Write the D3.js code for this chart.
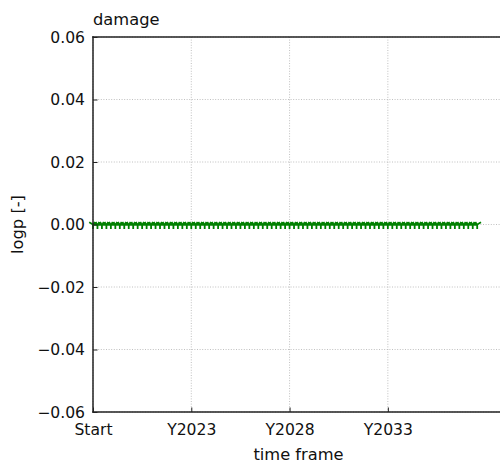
<!DOCTYPE html>
<html>
<head>
<meta charset="utf-8">
<script src="https://cdn.jsdelivr.net/npm/d3@7"></script>
<style>
  html, body { margin: 0; padding: 0; background: #fff; }
  svg { display: block; font-family: "DejaVu Sans", sans-serif; }
</style>
</head>
<body>
<svg id="chart" width="500" height="465"></svg>
<script>
// Damage log-probability per period (all periods report 0)
const damage = [
  0, 0, 0, 0, 0, 0, 0, 0, 0, 0, 0, 0, 0, 0, 0, 0, 0, 0, 0, 0, 0, 0,
  0, 0, 0, 0, 0, 0, 0, 0, 0, 0, 0, 0, 0, 0, 0, 0, 0, 0, 0, 0, 0, 0,
  0, 0, 0, 0, 0, 0, 0, 0, 0, 0, 0, 0, 0, 0, 0, 0, 0, 0, 0, 0, 0, 0,
  0, 0, 0, 0, 0, 0, 0, 0, 0, 0, 0, 0, 0, 0, 0, 0, 0, 0, 0, 0, 0
];
// Labelled positions on the time axis
const xTickIndex = [0, 22, 44, 66];
const xTickLabels = ["Start", "Y2023", "Y2028", "Y2033"];
const yTicks = [-0.06, -0.04, -0.02, 0.00, 0.02, 0.04, 0.06];

const svg = d3.select("#chart");
const plotLeft = 93, plotRight = 504, plotTop = 37, plotBottom = 412;
const tickFont = "15.6px", labelFont = "16.3px";

const x = d3.scaleLinear().domain([0, 92]).range([plotLeft, plotRight]);
const y = d3.scaleLinear().domain([-0.06, 0.06]).range([plotBottom, plotTop]);

const fmt = v => d3.format(".2f")(v).replace("-", "\u2212");

// Grid
const grid = svg.append("g").attr("stroke", "#b0b0b0").attr("stroke-width", 0.8)
  .attr("stroke-dasharray", "1,1.6");
grid.selectAll("line.v").data(xTickIndex).join("line").attr("class", "v")
  .attr("x1", d => x(d)).attr("x2", d => x(d)).attr("y1", plotTop).attr("y2", plotBottom);
grid.selectAll("line.h").data(yTicks).join("line").attr("class", "h")
  .attr("x1", plotLeft).attr("x2", plotRight).attr("y1", d => y(d)).attr("y2", d => y(d));

// Series line
const data = damage.map((v, i) => [i, v]);
svg.append("path").datum(data)
  .attr("fill", "none").attr("stroke", "#008000").attr("stroke-width", 2.4)
  .attr("d", d3.line().x(d => x(d[0])).y(d => y(d[1])));

// tri_down markers
const r = 4.4;
const tri = `M0,0L0,${r}M0,0L${-0.866 * r},${-0.5 * r}M0,0L${0.866 * r},${-0.5 * r}`;
svg.append("g").selectAll("path").data(data).join("path")
  .attr("transform", d => `translate(${x(d[0])},${y(d[1])})`)
  .attr("d", tri).attr("fill", "none").attr("stroke", "#008000").attr("stroke-width", 1.8);

// Axes with inward ticks
const xAxis = d3.axisBottom(x).tickValues(xTickIndex)
  .tickFormat((d, i) => xTickLabels[i]).tickSizeInner(-4.5).tickSizeOuter(0).tickPadding(12);
const gx = svg.append("g").attr("transform", `translate(0,${plotBottom})`).call(xAxis);
const yAxis = d3.axisLeft(y).tickValues(yTicks).tickFormat(fmt)
  .tickSizeInner(-4.5).tickSizeOuter(0).tickPadding(8);
const gy = svg.append("g").attr("transform", `translate(${plotLeft},0)`).call(yAxis);

[gx, gy].forEach(g => {
  g.select(".domain").remove();
  g.selectAll(".tick line").attr("stroke", "#222").attr("stroke-width", 1);
  g.selectAll(".tick text").attr("fill", "#111").style("font-size", tickFont)
    .style("font-family", "DejaVu Sans");
});

// Spines
svg.append("g").attr("stroke", "#222").attr("stroke-width", 1.5).attr("fill", "none")
  .selectAll("line").data([
    [plotLeft, plotTop, plotRight, plotTop],
    [plotLeft, plotBottom, plotRight, plotBottom],
    [plotLeft, plotTop, plotLeft, plotBottom]
  ]).join("line")
  .attr("x1", d => d[0]).attr("y1", d => d[1]).attr("x2", d => d[2]).attr("y2", d => d[3])
  .attr("stroke-linecap", "square");

// Titles
svg.append("text").attr("x", plotLeft).attr("y", 25).text("damage")
  .style("font-size", labelFont).attr("fill", "#111");
svg.append("text").attr("x", (plotLeft + plotRight) / 2).attr("y", 460).attr("text-anchor", "middle")
  .text("time frame").style("font-size", labelFont).attr("fill", "#111");
svg.append("text").attr("transform", `translate(23,${(plotTop + plotBottom) / 2}) rotate(-90)`)
  .attr("text-anchor", "middle").text("logp [-]").style("font-size", labelFont).attr("fill", "#111");
</script>
</body>
</html>
